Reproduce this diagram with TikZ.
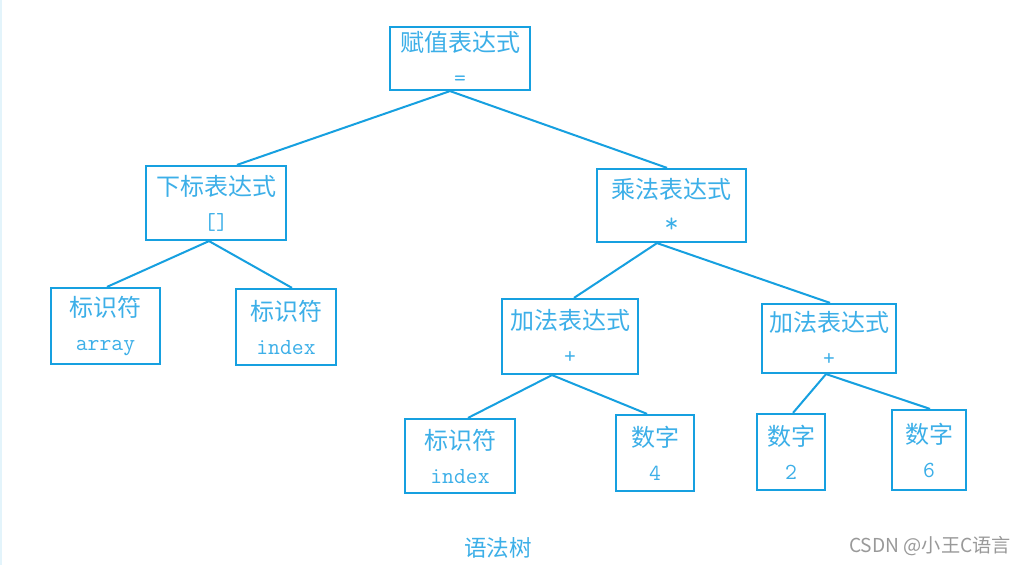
\documentclass[tikz,border=0pt]{standalone}
\usepackage{fontspec}
\newfontfamily\cjk{Noto Sans CJK SC}
\setmonofont{Latin Modern Mono}
\definecolor{treeblue}{RGB}{22,160,224}
\definecolor{textblue}{RGB}{60,175,232}
\tikzset{
  tbox/.style={draw=treeblue, line width=1.1pt, text=textblue, align=center, inner sep=0pt,
    font=\cjk\fontsize{12}{17}\selectfont},
  tline/.style={draw=treeblue, line width=1pt}
}
\newcommand{\code}[1]{{\ttfamily\fontsize{11.5}{17}\selectfont #1}}
\begin{document}
\begin{tikzpicture}[x=0.5pt,y=-0.5pt]
\useasboundingbox (0,0) rectangle (1015,565);
\fill[white] (0,0) rectangle (1015,565);
\draw[treeblue!12, line width=1pt] (0.5,0) -- (0.5,565);

\node[tbox, minimum width=70pt, minimum height=31.5pt] (root) at (460,58.5) {赋值表达式\\\code{=}};
\node[tbox, minimum width=70pt, minimum height=37pt] (sub) at (216,203) {下标表达式\\\code{[]}};
\node[tbox, minimum width=54.5pt, minimum height=38pt] (arr) at (105.5,326) {标识符\\\code{array}};
\node[tbox, minimum width=50pt, minimum height=38pt] (idxa) at (286,327) {标识符\\\code{index}};
\node[tbox, minimum width=74.5pt, minimum height=36.5pt] (mul) at (671.5,205.5) {乘法表达式\\{\ttfamily\fontsize{14}{17}\selectfont *}};
\node[tbox, minimum width=68pt, minimum height=37.5pt] (adda) at (570,336.5) {加法表达式\\\code{+}};
\node[tbox, minimum width=67pt, minimum height=34.5pt] (addb) at (829,338.5) {加法表达式\\\code{+}};
\node[tbox, minimum width=55pt, minimum height=37pt] (idxb) at (460,456) {标识符\\\code{index}};
\node[tbox, minimum width=39pt, minimum height=38pt] (numa) at (655,453) {数字\\\code{4}};
\node[tbox, minimum width=34pt, minimum height=38pt] (numb) at (791,452) {数字\\\code{2}};
\node[tbox, minimum width=37pt, minimum height=40pt] (numc) at (929,450) {数字\\\code{6}};

\draw[tline] ([xshift=10.5pt]sub.north) -- ([xshift=-5pt]root.south) -- ([xshift=-2.25pt]mul.north);
\draw[tline] ([xshift=0.75pt]arr.north) -- ([xshift=-3.5pt]sub.south) -- ([xshift=3pt]idxa.north);
\draw[tline] ([xshift=2pt]adda.north) -- ([xshift=-7.25pt]mul.south) -- ([xshift=0.5pt]addb.north);
\draw[tline] ([xshift=4pt]idxb.north) -- ([xshift=-9pt]adda.south) -- ([xshift=-4pt]numa.north);
\draw[tline] ([xshift=1pt]numb.north) -- ([xshift=-1.5pt]addb.south) -- ([xshift=0.5pt]numc.north);

\node[text=textblue, font=\cjk\fontsize{11.3}{13}\selectfont] (cap) at (498,548) {语法树};
\node[text=black!40, font=\cjk\fontsize{9.6}{11}\selectfont] (mark) at (930,546) {CSDN @小王C语言};
\end{tikzpicture}
\end{document}
